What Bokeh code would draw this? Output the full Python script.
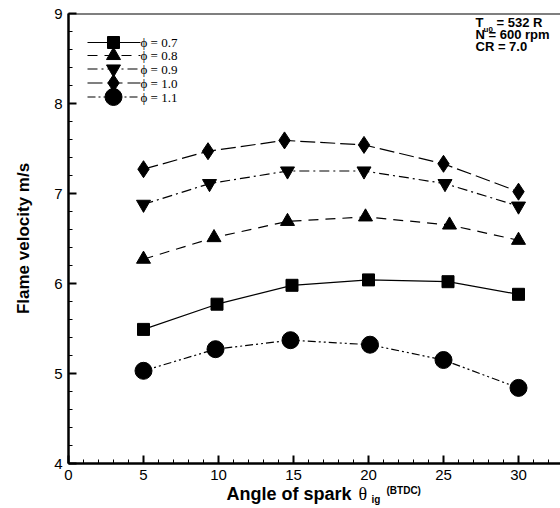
import numpy as np
from bokeh.plotting import figure
from bokeh.layouts import column
from bokeh.models import Range1d, Label, Span, FixedTicker
from bokeh.embed import file_html
from bokeh.resources import INLINE

# ---- data ----
phi_labels = ["ϕ = 0.7", "ϕ = 0.8", "ϕ = 0.9", "ϕ = 1.0", "ϕ = 1.1"]
x_07 = [5.0, 9.9, 14.9, 20.0, 25.3, 30.0]
y_07 = [5.49, 5.77, 5.98, 6.04, 6.02, 5.88]
x_08 = [5.0, 9.7, 14.6, 19.8, 25.4, 30.0]
y_08 = [6.27, 6.51, 6.69, 6.74, 6.65, 6.48]
x_09 = [5.0, 9.4, 14.6, 19.7, 25.1, 30.0]
y_09 = [6.88, 7.11, 7.25, 7.25, 7.11, 6.86]
x_10 = [5.0, 9.3, 14.4, 19.7, 25.0, 30.0]
y_10 = [7.27, 7.47, 7.59, 7.54, 7.33, 7.02]
x_11 = [5.0, 9.8, 14.8, 20.1, 25.0, 30.0]
y_11 = [5.03, 5.27, 5.37, 5.32, 5.15, 4.84]
x_ticks = [0, 5, 10, 15, 20, 25, 30]
y_ticks = [4, 5, 6, 7, 8, 9]

series = [
    (x_07, y_07, "square", 12, "solid"),
    (x_08, y_08, "triangle", 14, "10 7"),
    (x_09, y_09, "inverted_triangle", 14, "10 4 2 4"),
    (x_10, y_10, "diamond", 17, "15 5"),
    (x_11, y_11, "circle", 17, "8 3 2 3 2 3"),
]

# ---- geometry (pixel helpers for annotations) ----
FL, FT, FB = 68, 13, 463
XS, YS = 15.0, 90.0
X0, X1, Y0, Y1 = 0, 492 / XS, 4, 9
H1 = 484


def dx(px):
    return X0 + (px - FL) / XS


def dy(py):
    return Y0 + (FB - py) / YS


p = figure(width=560, height=H1, output_backend="svg", toolbar_location=None,
           x_range=Range1d(X0, X1), y_range=Range1d(Y0, Y1),
           min_border_left=FL, min_border_right=0, min_border_top=FT,
           min_border_bottom=H1 - FB, background_fill_color="white",
           border_fill_color="white")
p.outline_line_color = None
p.grid.visible = False

for ax in (p.xaxis[0], p.yaxis[0]):
    ax.axis_line_width = 2.5
    ax.axis_line_color = "black"
    ax.major_tick_in = 8
    ax.major_tick_out = 0
    ax.minor_tick_in = 4
    ax.minor_tick_out = 0
    ax.major_tick_line_width = 2
    ax.minor_tick_line_width = 1
    ax.major_tick_line_color = "black"
    ax.minor_tick_line_color = "black"
    ax.major_label_text_font = "Liberation Sans"
    ax.major_label_text_font_size = "15px"
    ax.major_label_text_color = "black"

p.xaxis[0].ticker = FixedTicker(ticks=x_ticks, minor_ticks=list(range(0, 33)))
p.yaxis[0].ticker = FixedTicker(ticks=y_ticks,
                                minor_ticks=[round(4 + 0.2 * i, 1) for i in range(26)])
p.xaxis[0].major_label_standoff = 6
p.yaxis[0].major_label_standoff = 6
p.yaxis[0].axis_label = "Flame velocity m/s"
p.yaxis[0].axis_label_text_font = "Liberation Sans"
p.yaxis[0].axis_label_text_font_style = "bold"
p.yaxis[0].axis_label_text_font_size = "17px"
p.yaxis[0].axis_label_standoff = 18
p.yaxis[0].axis_label_text_color = "black"

p.add_layout(Span(location=Y1, dimension="width", line_color="black", line_width=2))

for xs, ys, mk, sz, dash in series:
    p.line(xs, ys, line_color="black", line_width=1.2, line_dash=dash)
    p.scatter(xs, ys, marker=mk, size=sz, fill_color="black", line_color="black")

# ---- legend (manual) ----
rows = [42, 55, 68.5, 82.5, 96.5]
for (xs, ys, mk, sz, dash), r, lab in zip(series, rows, phi_labels):
    p.line([dx(87), dx(140)], [dy(r), dy(r)], line_color="black", line_width=1.2,
           line_dash=dash)
    p.scatter([dx(113)], [dy(r)], marker=mk, size=sz, fill_color="black",
              line_color="black")
    p.add_layout(Label(x=dx(140), y=dy(r), text=lab, text_font="Liberation Serif",
                       text_font_size="13px", text_baseline="middle",
                       text_color="black"))

# ---- annotation text ----
bold = dict(text_font="Liberation Sans", text_font_style="bold", text_color="black",
            text_baseline="middle")
p.add_layout(Label(x=dx(475), y=dy(22), text="T", text_font_size="13px", **bold))
p.add_layout(Label(x=dx(483), y=dy(29), text="u0", text_font_size="8px", **bold))
p.add_layout(Label(x=dx(496), y=dy(22), text="= 532 R", text_font_size="13px", **bold))
p.add_layout(Label(x=dx(475), y=dy(34), text="N = 600 rpm", text_font_size="13px", **bold))
p.add_layout(Label(x=dx(475), y=dy(46), text="CR = 7.0", text_font_size="13px", **bold))

# ---- x axis label strip (separate small figure below the plot) ----
# the column aligns this strip's frame with the main frame (left edge at FL)
H2 = 508 - H1
q = figure(width=560, height=H2, output_backend="svg", toolbar_location=None,
           x_range=Range1d(FL, 560), y_range=Range1d(H2, 0),
           min_border=0, background_fill_color="white", border_fill_color="white")
q.outline_line_color = None
q.axis.visible = False
q.grid.visible = False


def qy(py):
    return py - H1


q.add_layout(Label(x=226, y=qy(493), text="Angle of spark", text_font_size="18px", **bold))
q.add_layout(Label(x=358, y=qy(493), text="θ", text_font="Liberation Serif",
                   text_font_size="18px", text_baseline="middle", text_color="black"))
q.add_layout(Label(x=371, y=qy(499), text="ig", text_font_size="10px", **bold))
q.add_layout(Label(x=386, y=qy(490), text="(BTDC)", text_font_size="10px", **bold))

layout = column(p, q, spacing=0)
open("out.html", "w").write(file_html(layout, INLINE))
